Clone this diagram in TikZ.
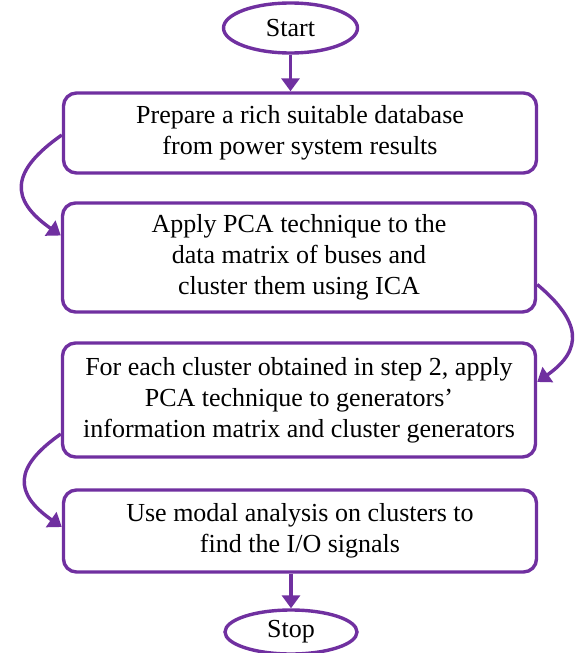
\documentclass[tikz,border=0pt]{standalone}
\usepackage{fontspec}
\setmainfont{Liberation Serif}
\usetikzlibrary{shapes.geometric,arrows.meta}
\definecolor{flowpurple}{HTML}{7030A0}
\begin{document}
\begin{tikzpicture}[x=0.5pt,y=-0.5pt,
  term/.style={ellipse,draw=flowpurple,line width=1.7pt,minimum width=67pt,minimum height=25pt,inner sep=0pt,font=\fontsize{13}{15.5}\selectfont},
  stepbox/.style={rectangle,rounded corners=6.5pt,draw=flowpurple,line width=1.7pt,minimum width=236.5pt,align=center,inner sep=0pt,font=\fontsize{13}{15.5}\selectfont},
  flow/.style={draw=flowpurple,line width=1.7pt,-{Triangle[length=6.5pt,width=9pt]}}]
  \useasboundingbox (0,0) rectangle (580,653);

  \node[term] (start) at (290.5,28) {Start};
  \node[stepbox,minimum height=40pt] (prep) at (300,133)
    {Prepare a rich suitable database\\from power system results};
  \node[stepbox,minimum height=54.5pt] (buses) at (299,257.5)
    {Apply PCA technique to the\\data matrix of buses and\\cluster them using ICA};
  \node[stepbox,minimum height=57pt] (gens) at (299,400)
    {For each cluster obtained in step 2, apply\\PCA technique to generators'\\information matrix and cluster generators};
  \node[stepbox,minimum height=41pt] (modal) at (300,531)
    {Use modal analysis on clusters to\\find the I/O signals};
  \node[term,minimum width=66pt,minimum height=22pt] (stop) at (291,632) {Stop};

  % straight steps
  \draw[flow] (start) -- (start |- prep.north);
  \draw[flow] (modal.south -| stop) -- (stop);

  % curved steps
  \draw[flow] ([yshift=-1pt]prep.west) to[out=215,in=145,looseness=1.6] ([yshift=11pt]buses.west);
  \draw[flow] ([yshift=-13.5pt]buses.east) to[out=-40,in=35,looseness=1.5] ([yshift=9pt]gens.east);
  \draw[flow] ([yshift=-17pt]gens.west) to[out=215,in=145,looseness=1.6] ([yshift=2pt]modal.west);
\end{tikzpicture}
\end{document}
